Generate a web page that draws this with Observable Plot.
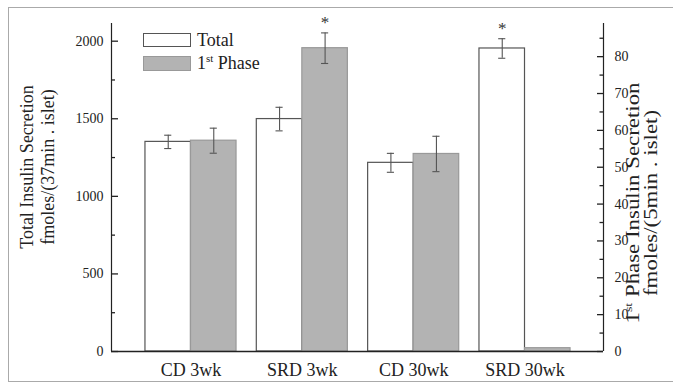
<!DOCTYPE html>
<html><head><meta charset="utf-8">
<script src="https://cdn.jsdelivr.net/npm/d3@7"></script>
<script src="https://cdn.jsdelivr.net/npm/@observablehq/plot@0.6"></script>
<style>
html,body{margin:0;padding:0;background:#fff;overflow:hidden;}
#wrap{position:relative;width:673px;height:386px;overflow:hidden;font-family:"Liberation Serif","DejaVu Serif",serif;color:#222;}
#border{position:absolute;left:8px;top:7px;width:700px;height:375px;border:1px solid #aaa;box-sizing:border-box;}
#chart{position:absolute;left:0;top:0;}
.ylab{position:absolute;white-space:nowrap;font-size:18px;text-align:center;}
.ylab sup{font-size:11px;line-height:0;}
#legend{position:absolute;left:143px;top:31px;font-size:18px;}
.item{position:relative;height:23px;}
.sw{position:absolute;left:0;width:48px;box-sizing:border-box;}
.item span{position:absolute;left:54px;top:-1px;white-space:nowrap;}
.item sup{font-size:11px;line-height:0;}
</style></head>
<body>
<div id="wrap">
  <div id="border"></div>
  <div id="chart"></div>
  <div class="ylab" style="left:38px;top:167px;line-height:21px;transform:translate(-50%,-50%) rotate(-90deg);">Total Insulin Secretion<br>fmoles/(37min . islet)</div>
  <div class="ylab" style="left:642px;top:203px;line-height:18px;transform:translate(-50%,-50%) rotate(-90deg) scaleX(1.27);">1<sup>st</sup> Phase Insulin Secretion<br>fmoles/(5min . islet)</div>
  <div id="legend">
    <div class="item"><div class="sw" style="top:2px;height:14px;background:#fff;border:1px solid #555;"></div><span>Total</span></div>
    <div class="item"><div class="sw" style="top:2px;height:15px;background:#b3b3b3;border:1px solid #999;"></div><span>1<sup>st</sup> Phase</span></div>
  </div>
</div>
<script>
const groups = ["CD 3wk", "SRD 3wk", "CD 30wk", "SRD 30wk"];
const totalMean = [1351, 1498, 1216, 1953];
const totalErr = [43, 76, 61, 63];
const phaseMean = [57.2, 82.3, 53.6, 0.9];
const phaseErr = [3.4, 4.15, 4.8, 0];
const totalStar = [false, false, false, true];
const phaseStar = [false, true, false, false];
const leftTicks = [0, 500, 1000, 1500, 2000];
const leftMinor = [250, 750, 1250, 1750];
const rightTicks = [0, 10, 20, 30, 40, 50, 60, 70, 80];
const rightMinor = [5, 15, 25, 35, 45, 55, 65, 75, 85];
const leftMax = 2114;
const rightMax = 89;

const W = 673, H = 386, mL = 111, mR = 70, mT = 23, mB = 35;
const k = leftMax / rightMax;
const bw = 0.409;   // bar width in group units
const cap = 0.032;  // error cap half width
const xDomain = [-0.714, 3.705];
const pxPerUnit = (W - mL - mR) / (xDomain[1] - xDomain[0]);

const totalRows = groups.map((g, i) => ({i, cx: i - bw / 2, v: totalMean[i], lo: totalMean[i] - totalErr[i], hi: totalMean[i] + totalErr[i], star: totalStar[i]}));
const phaseRows = groups.map((g, i) => ({i, cx: i + bw / 2, v: phaseMean[i] * k, lo: (phaseMean[i] - phaseErr[i]) * k, hi: (phaseMean[i] + phaseErr[i]) * k, star: phaseStar[i], e: phaseErr[i]}));
const errRows = totalRows.concat(phaseRows.filter(d => d.e > 0));
const starRows = totalRows.concat(phaseRows).filter(d => d.star);

// inward tick marks on the left and right axes
const tickMark = (values, side, len) => {
  const x0 = side === "left" ? xDomain[0] : xDomain[1];
  const x1 = x0 + (side === "left" ? 1 : -1) * len / pxPerUnit;
  return Plot.ruleY(values, {y: d => d, x1: () => x0, x2: () => x1, stroke: "#222", strokeWidth: 1.3});
};

const chart = Plot.plot({
  width: W, height: H,
  marginLeft: mL, marginRight: mR, marginTop: mT, marginBottom: mB,
  x: {domain: xDomain, axis: null},
  y: {domain: [0, leftMax], axis: null},
  style: {fontFamily: "Liberation Serif, DejaVu Serif, serif", color: "#222", background: "transparent", overflow: "visible"},
  marks: [
    Plot.rectY(totalRows, {x1: d => d.i - bw, x2: d => d.i, y: "v", fill: "white", stroke: "#555", strokeWidth: 1.2}),
    Plot.rectY(phaseRows, {x1: d => d.i, x2: d => d.i + bw, y: "v", fill: "#b3b3b3", stroke: "#999", strokeWidth: 1.2}),
    Plot.ruleX(errRows, {x: "cx", y1: "lo", y2: "hi", stroke: "#555", strokeWidth: 1.1}),
    Plot.ruleY(errRows, {y: "hi", x1: d => d.cx - cap, x2: d => d.cx + cap, stroke: "#555", strokeWidth: 1.1}),
    Plot.ruleY(errRows, {y: "lo", x1: d => d.cx - cap, x2: d => d.cx + cap, stroke: "#555", strokeWidth: 1.1}),
    Plot.text(starRows, {x: "cx", y: "hi", text: () => "*", dy: -5, lineAnchor: "bottom", fontSize: 17, fill: "#333"}),
    Plot.ruleY([0], {stroke: "#222", strokeWidth: 1.3}),
    Plot.ruleX([xDomain[0]], {stroke: "#222", strokeWidth: 1.2}),
    Plot.ruleX([xDomain[1]], {stroke: "#222", strokeWidth: 1.2}),
    tickMark(leftTicks, "left", 7),
    tickMark(leftMinor, "left", 4),
    tickMark(rightTicks.map(v => v * k), "right", 6),
    tickMark(rightMinor.map(v => v * k), "right", 3.5),
    Plot.axisY({anchor: "left", ticks: leftTicks, tickFormat: d => String(d), tickSize: 0, tickPadding: 8, fontSize: 14, label: null}),
    Plot.axisY({anchor: "right", ticks: rightTicks.map(v => v * k), tickFormat: d => String(Math.round(d / k)), tickSize: 0, tickPadding: 11, fontSize: 14, label: null}),
    Plot.axisX({ticks: [0, 1, 2, 3], tickFormat: i => groups[i], tickSize: 0, tickPadding: 12, fontSize: 18, label: null})
  ]
});
document.getElementById("chart").appendChild(chart);
</script>
</body></html>
